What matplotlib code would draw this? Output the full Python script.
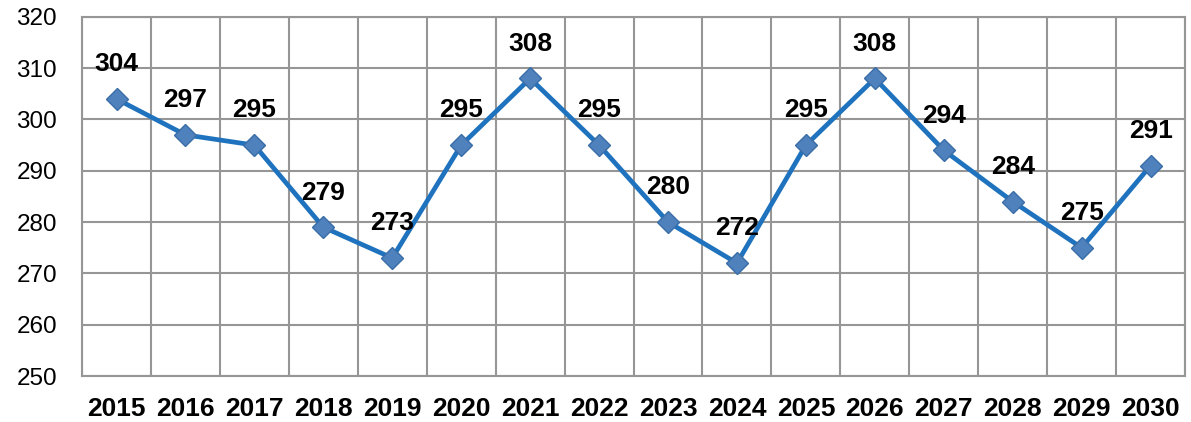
import numpy as np
import matplotlib
matplotlib.use("Agg")
import matplotlib.pyplot as plt

plt.rcParams['font.family'] = ['Liberation Sans', 'DejaVu Sans']

# data
years = ['2015', '2016', '2017', '2018', '2019', '2020', '2021', '2022',
         '2023', '2024', '2025', '2026', '2027', '2028', '2029', '2030']
values = [304, 297, 295, 279, 273, 295, 308, 295, 280, 272, 295, 308, 294, 284, 275, 291]

grid_col = '#969696'

fig = plt.figure(figsize=(11.91, 4.22), dpi=100)
ax = fig.add_axes([0.0689, 0.109, 0.9261, 0.851])

x = np.arange(len(years))
ax.plot(x, values, color='#1F73BE', lw=3.4, marker='D', ms=11,
        markerfacecolor='#4F81BD', markeredgecolor='#3A6EA8', markeredgewidth=1, zorder=3)

for xi, v in zip(x, values):
    ax.annotate(str(v), (xi, v), xytext=(0, 25), textcoords='offset points',
                ha='center', va='center', fontsize=19, fontweight='bold', zorder=4)

ax.set_xlim(-0.5, len(years) - 0.5)
ax.set_ylim(250, 320)
ax.set_yticks(np.arange(250, 321, 10))
ax.set_xticks(x)
ax.set_xticklabels(years, fontsize=19, fontweight='bold')
ax.set_xticks(np.arange(-0.5, len(years), 1), minor=True)
ax.tick_params(axis='y', labelsize=17.5, length=0, pad=18)
ax.tick_params(axis='x', which='both', length=0, pad=15)

ax.grid(axis='y', color=grid_col, lw=1.5)
ax.grid(axis='x', which='minor', color=grid_col, lw=1.5)
ax.set_axisbelow(True)
for s in ax.spines.values():
    s.set_color(grid_col)
    s.set_linewidth(1.5)

fig.savefig('out.png', dpi=100)
